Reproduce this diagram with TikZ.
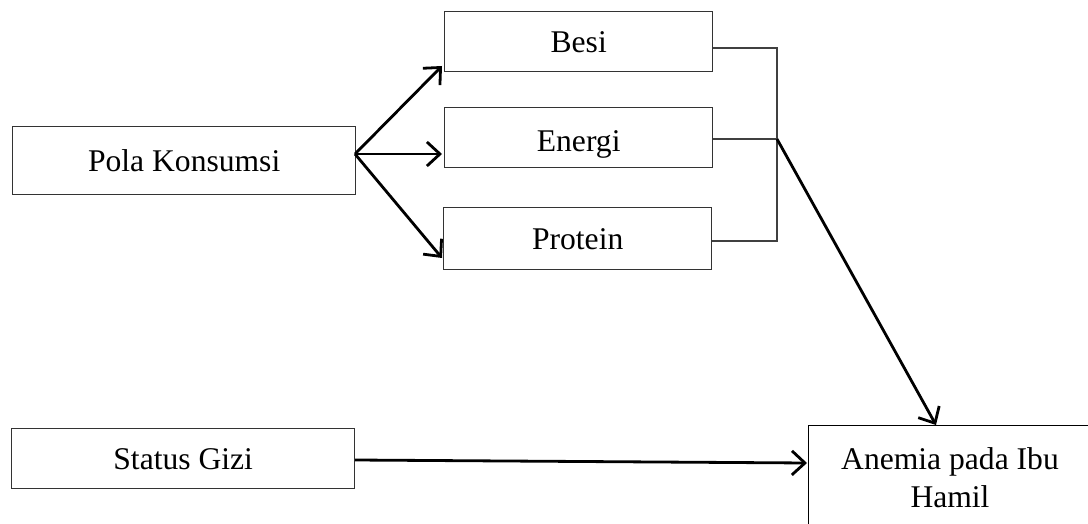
\documentclass[tikz,border=0pt]{standalone}
\usepackage{fontspec}
\setmainfont{Liberation Serif}
\usetikzlibrary{arrows.meta,calc}
\begin{document}
\begin{tikzpicture}[x=1pt,y=-1pt,
  box/.style={draw=black!80,line width=1.4pt,minimum width=268pt,minimum height=60pt,inner sep=0pt,anchor=north west,font=\fontsize{31.6}{37}\selectfont},
  bigbox/.style={draw=black!80,line width=1.4pt,minimum width=343pt,inner sep=0pt,anchor=north west,font=\fontsize{31.6}{37}\selectfont},
  arr/.style={line width=2.8pt,-{Straight Barb[length=13pt,width=24pt,line width=2.8pt]}},
  brk/.style={draw=black!75,line width=1.6pt}]
\useasboundingbox (0,0) rectangle (1088,524);
\clip (0,0) rectangle (1088,524);
\node[bigbox,minimum height=68pt] (pola) at (12,126) {Pola Konsumsi};
\node[bigbox,minimum height=60pt] (gizi) at (11,428) {Status Gizi};
\node[box] (besi) at (444,11) {Besi};
\node[box,text depth=0pt,text height=28pt] (energi) at (444,107) {Energi};
\node[box,minimum height=62pt] (protein) at (443,207) {Protein};
\node[draw=black,line width=1.4pt,anchor=north west,minimum width=284pt,minimum height=110pt,inner sep=0pt] (anemia) at (808,425) {};
\node[font=\fontsize{31.6}{38}\selectfont,align=center,anchor=north] (anemiatext) at (950,444) {Anemia pada Ibu\\Hamil};
\coordinate (src) at (355,154);
\coordinate (tb) at (442,66);
\coordinate (te) at (442,154);
\coordinate (tp) at (442,258);
\coordinate (j1) at (777,48);
\coordinate (j2) at (777,139);
\coordinate (j3) at (777,241);
\coordinate (ta) at (936,425);
\coordinate (gs) at (355,460);
\coordinate (ge) at (807,463);
\draw[arr] (src) -- (tb);
\draw[arr] (src) -- (te);
\draw[arr] (src) -- (tp);
\draw[brk] (besi.east |- j1) -- (j1) -- (j3) -- (protein.east |- j3);
\draw[brk] (energi.east |- j2) -- (j2);
\draw[arr] (j2) -- (ta);
\draw[arr] (gs) -- (ge);
\end{tikzpicture}
\end{document}
